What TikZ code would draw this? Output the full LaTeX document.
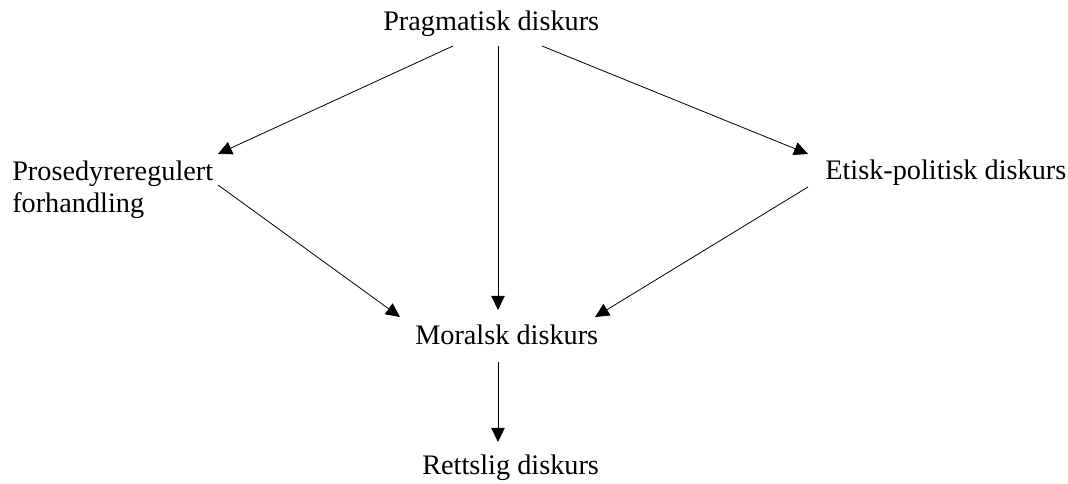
\documentclass[tikz,border=0pt]{standalone}
\usepackage{fontspec}
\setmainfont{Liberation Serif}
\usetikzlibrary{arrows.meta}
\begin{document}
\begin{tikzpicture}[x=0.75pt,y=-0.75pt,
  lbl/.style={anchor=base west,inner sep=0pt,font=\fontsize{21.2}{23.4}\selectfont,align=left},
  arr/.style={-{Triangle[length=10.5pt,width=10pt]},line width=0.6pt,black}]
\useasboundingbox (0,0) rectangle (1068,484);
\node[lbl] (prag) at (383,31) {Pragmatisk diskurs};
\node[lbl,anchor=north west] (pros) at (12,161) {Prosedyreregulert\\forhandling};
\node[lbl] (etisk) at (825,180) {Etisk-politisk diskurs};
\node[lbl] (moral) at (415,345) {Moralsk diskurs};
\node[lbl] (retts) at (422,475) {Rettslig diskurs};
% connector end points
\coordinate (pragL) at (453,46);
\coordinate (pragM) at (498,46);
\coordinate (pragR) at (542,46);
\coordinate (prosIn) at (218,154);
\coordinate (prosOut) at (218,185);
\coordinate (etiskIn) at (808,154);
\coordinate (etiskOut) at (808,187);
\coordinate (moralInL) at (400,317);
\coordinate (moralInM) at (498,310);
\coordinate (moralInR) at (595,317);
\coordinate (moralOut) at (498,362);
\coordinate (rettsIn) at (498,442);
\draw[arr] (pragL) -- (prosIn);
\draw[arr] (pragM) -- (moralInM);
\draw[arr] (pragR) -- (etiskIn);
\draw[arr] (prosOut) -- (moralInL);
\draw[arr] (etiskOut) -- (moralInR);
\draw[arr] (moralOut) -- (rettsIn);
\end{tikzpicture}
\end{document}
